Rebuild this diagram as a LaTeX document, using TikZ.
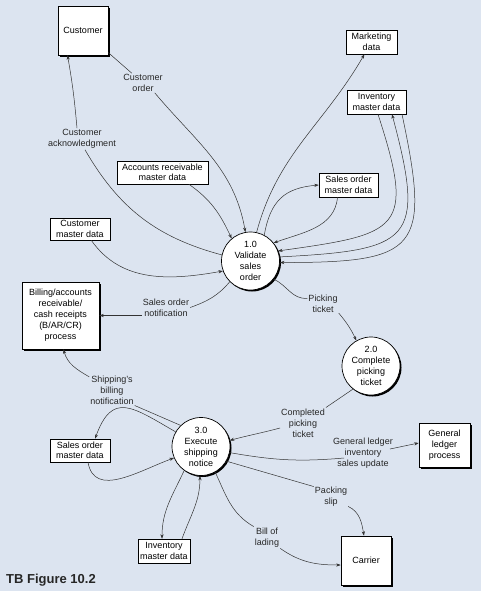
\documentclass[tikz,border=0pt]{standalone}
\usepackage{fontspec}
\setmainfont{Liberation Sans}
\usepackage{xcolor}
\usepackage{tikz}
\usetikzlibrary{positioning,arrows.meta,shadows}
\definecolor{TBBack}{RGB}{220,228,240}

\begin{document}
\begin{tikzpicture}[x=1pt,y=-1pt]
	\tikzset{
		pr/.style={circle, draw=black, line width=0.7pt, fill=white,
			minimum size=58pt, inner sep=0pt, align=center, font=\fontsize{9}{11}\selectfont,
			drop shadow={shadow xshift=1.5pt, shadow yshift=-1.5pt, fill=black, opacity=1}},
		en/.style={draw=black, line width=0.6pt, fill=white, inner sep=1pt,
			align=center, font=\fontsize{9}{11}\selectfont,
			drop shadow={shadow xshift=2pt, shadow yshift=-2pt, fill=black, opacity=1}},
		st/.style={draw=black, line width=0.5pt, fill=white, inner sep=1pt,
			align=center, font=\fontsize{9}{10.5}\selectfont,
			drop shadow={shadow xshift=0.8pt, shadow yshift=-0.8pt, fill=black, opacity=1}},
		w/.style={align=center, inner sep=1pt, text=black!85, font=\fontsize{9}{11}\selectfont},
		e/.style={draw=black!80, line width=0.5pt},
		ea/.style={e, -{Stealth[length=4.5pt, width=3.2pt]}}
	}
	\useasboundingbox (0,0) rectangle (481,591);
	\fill[TBBack] (0,0) rectangle (481,591);
	
	% entities and data stores
	\node[en, minimum width=50pt, minimum height=49pt] (cust) at (83,30.5) {Customer};
	\node[st, minimum width=51pt, minimum height=24pt] (mkt) at (371.5,42) {Marketing\\data};
	\node[st, minimum width=59pt, minimum height=24pt] (invtop) at (376.5,102) {Inventory\\master data};
	\node[st, minimum width=59pt, minimum height=24pt] (sodr) at (348.5,185) {Sales order\\master data};
	\node[st, minimum width=91pt, minimum height=23pt] (ardata) at (162.5,172.5) {Accounts receivable\\master data};
	\node[st, minimum width=60pt, minimum height=22pt] (custdata) at (80,229) {Customer\\master data};
	\node[en, minimum width=77pt, minimum height=67pt] (bill) at (60.5,315.5) {Billing/accounts\\receivable/\\cash receipts\\(B/AR/CR)\\process};
	\node[st, minimum width=60pt, minimum height=23pt] (sodl) at (80,450.5) {Sales order\\master data};
	\node[en, minimum width=51pt, minimum height=44pt] (gl) at (444.5,445) {General\\ledger\\process};
	\node[en, minimum width=50pt, minimum height=49pt] (carrier) at (366,560.5) {Carrier};
	\node[st, minimum width=52pt, minimum height=24pt] (invbot) at (164,551) {Inventory\\master data};
	
	% processes
	\node[pr] (p1) at (250.5,261) {1.0\\Validate\\sales\\order};
	\node[pr] (p2) at (371,366) {2.0\\Complete\\picking\\ticket};
	\node[pr] (p3) at (201,446.5) {3.0\\Execute\\shipping\\notice};
	
	% flow labels
	\node[w] (lco) at (143,83) {Customer\\order};
	\node[w] (lca) at (82,139) {Customer\\acknowledgment};
	\node[w] (lson) at (166,307.5) {Sales order\\notification};
	\node[w] (lpt) at (323,304) {Picking\\ticket};
	\node[w] (lsbn) at (112,390) {Shipping's\\billing\\notification};
	\node[w] (lcpt) at (303,423) {Completed\\picking\\ticket};
	\node[w] (lgl) at (363,453) {General ledger\\inventory\\sales update};
	\node[w] (lps) at (331,496.5) {Packing\\slip};
	\node[w] (lbl) at (267,537.5) {Bill of\\lading};
	
	\node[anchor=base west, inner sep=0pt, text=black!85, font=\bfseries\fontsize{13}{15}\selectfont] (fig) at (6,583) {TB Figure 10.2};
	
	% flows round 1.0
	\draw[e] (cust) -- (lco);
	\draw[ea] (lco.-40) to[out=-50, in=100] (p1.100);
	\draw[e] (p1.168) to[out=165, in=-60] ([xshift=3pt]lca.south);
	\draw[ea] ([xshift=-5pt]lca.north) to[out=95, in=-80] (cust.-122);
	\draw[ea] (ardata.-24) to[out=-35, in=115] (p1.130);
	\draw[ea] (custdata.-45) to[out=-55, in=190] (p1.200);
	\draw[e] (p1.-135) to[out=-130, in=20] (lson.east);
	\draw[ea] (lson.west |- bill.east) -- (bill.east);
	\draw[ea] (p1.78) to[out=75, in=-120] (mkt.-120);
	\draw[ea] (p1.62) to[out=80, in=185, looseness=1.2] (sodr.west);
	\draw[ea] ([xshift=-11pt]sodr.south) to[out=-95, in=20] (p1.38);
	\draw[ea] ([xshift=1.5pt]invtop.south) to[out=-72, in=8, looseness=1.85] (p1.20);
	\draw[ea] (p1.8) to[out=3, in=-75, looseness=1.85] ([xshift=15.5pt]invtop.south);
	\draw[ea] ([xshift=25.5pt]invtop.south) to[out=-78, in=0, looseness=1.85] (p1.-3);
	
	% 1.0 to 2.0 to 3.0
	\draw[e] (p1.-38) to[out=-25, in=185] (lpt.160);
	\draw[ea] (lpt.-30) to[out=-50, in=115] (p2.120);
	\draw[e] (p2.-128) -- (lcpt.north east);
	\draw[ea] ([yshift=-5pt]lcpt.west) to[out=195, in=15] (p3.12);
	
	% flows round 3.0
	\draw[e] (p3.134) -- (lsbn.south east);
	\draw[ea] (lsbn.150) to[out=150, in=-75] ([xshift=3pt]bill.south);
	\draw[ea] (p3.150) to[out=150, in=70, looseness=1.6] ([xshift=15pt]sodl.north);
	\draw[ea] ([xshift=8pt]sodl.south) to[out=-80, in=200, looseness=1.1] (p3.203);
	\draw[ea] (p3.-125) to[out=-115, in=90] ([xshift=-2pt]invbot.north);
	\draw[ea] ([xshift=18pt]invbot.north) to[out=70, in=-90] (p3.-92);
	\draw[e] (p3.-12) to[out=-10, in=185] ([shift={(12pt,-5pt)}]lgl.west);
	\draw[ea] ([shift={(-4pt,4pt)}]lgl.east) -- ([yshift=2pt]gl.west);
	\draw[e] (p3.-30) -- (lps.150);
	\draw[ea] (lps.-30) to[out=-25, in=100] ([xshift=-2pt]carrier.north);
	\draw[e] (p3.-61) to[out=-65, in=150] (lbl.north west);
	\draw[ea] (lbl.south east) to[out=-35, in=180] ([yshift=-4.5pt]carrier.west);
\end{tikzpicture}
\end{document}
